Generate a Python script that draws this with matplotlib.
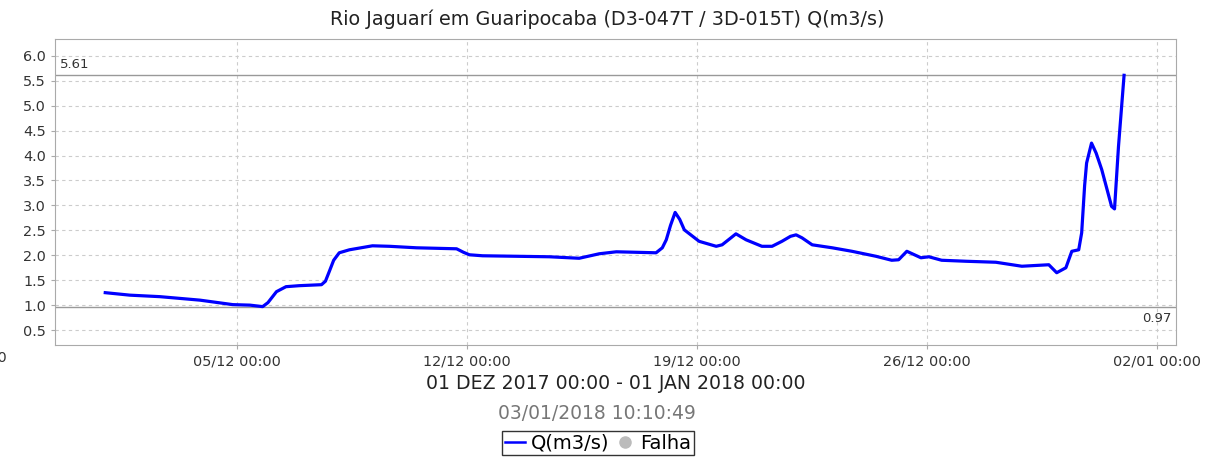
import matplotlib
matplotlib.use("Agg")
import matplotlib.pyplot as plt
import matplotlib.dates as mdates
from matplotlib.lines import Line2D
import numpy as np
from datetime import datetime, timedelta

# Series: days since 01/12/2017 00:00 and flow Q(m3/s)
start = datetime(2017, 12, 1)
days = [0.0, 0.75, 1.66, 2.88, 3.88, 4.40, 4.79, 4.95, 5.21, 5.50, 5.90, 6.58,
        6.70, 6.82, 6.95, 7.12, 7.43, 8.13, 8.65, 9.47, 10.69, 10.90, 11.08,
        11.48, 12.51, 13.51, 14.42, 15.03, 15.55, 16.76, 16.95, 17.07, 17.20,
        17.34, 17.48, 17.62, 18.07, 18.59, 18.77, 19.00, 19.19, 19.50, 19.98,
        20.29, 20.59, 20.85, 21.02, 21.20, 21.51, 22.12, 22.72, 23.45, 23.93,
        24.14, 24.39, 24.82, 25.06, 25.45, 26.19, 27.10, 27.89, 28.71, 28.95,
        29.23, 29.41, 29.62, 29.71, 29.80, 29.86, 30.01, 30.15, 30.32, 30.62,
        30.71, 30.83, 31.0]
flow = [1.25, 1.20, 1.17, 1.10, 1.01, 1.00, 0.97, 1.05, 1.27, 1.37, 1.39, 1.41,
        1.48, 1.68, 1.90, 2.05, 2.11, 2.19, 2.18, 2.15, 2.13, 2.06, 2.01,
        1.99, 1.98, 1.97, 1.94, 2.03, 2.07, 2.05, 2.15, 2.31, 2.60,
        2.86, 2.72, 2.51, 2.28, 2.18, 2.21, 2.33, 2.43, 2.31, 2.18,
        2.18, 2.28, 2.38, 2.41, 2.35, 2.21, 2.15, 2.08, 1.98, 1.90,
        1.91, 2.08, 1.95, 1.97, 1.90, 1.88, 1.86, 1.78, 1.81, 1.65,
        1.75, 2.08, 2.11, 2.45, 3.40, 3.85, 4.25, 4.05, 3.72, 2.98,
        2.93, 4.18, 5.61]
q_max = 5.61
q_min = 0.97
tick_days = [4, 11, 18, 25, 32]

times = [start + timedelta(days=d) for d in days]
ticks = [start + timedelta(days=d) for d in tick_days]

fig = plt.figure(figsize=(12.16, 4.61), dpi=100)
ax = fig.add_axes([0.0452, 0.2516, 0.9219, 0.664])

ax.plot(times, flow, color="#0000ff", lw=2.3, zorder=3)
ax.axhline(q_max, color="#999999", lw=1, zorder=2)
ax.axhline(q_min, color="#999999", lw=1, zorder=2)

ax.set_yticks(np.arange(0.5, 6.01, 0.5))
ax.set_xticks(ticks)
ax.xaxis.set_major_formatter(mdates.DateFormatter("%d/%m %H:%M"))
ax.set_xlim(start + timedelta(days=-1.53), start + timedelta(days=32.58))
ax.set_ylim(0.2, 6.34)

ax.grid(True, color="#cccccc", ls=(0, (3, 3)), lw=0.8)
for s in ax.spines.values():
    s.set_color("#aaaaaa")
ax.tick_params(colors="#aaaaaa", labelcolor="#333333", labelsize=10.4, length=3)

# clipped label of the 28/11 tick at the far left
fig.text(0.0058, 0.224, "28/11 00:00", ha="right", va="center",
         fontsize=10.4, color="#333333")

ax.text(0.004, q_max + 0.08, "5.61", transform=ax.get_yaxis_transform(),
        ha="left", va="bottom", fontsize=9.5, color="#333333")
ax.text(0.996, q_min - 0.1, "0.97", transform=ax.get_yaxis_transform(),
        ha="right", va="top", fontsize=9.5, color="#333333")

fig.text(0.499, 0.958, "Rio Jaguarí em Guaripocaba (D3-047T / 3D-015T) Q(m3/s)",
         ha="center", va="center", fontsize=13.8, color="#222222")
fig.text(0.506, 0.169, "01 DEZ 2017 00:00 - 01 JAN 2018 00:00",
         ha="center", va="center", fontsize=13.6, color="#222222")
fig.text(0.491, 0.103, "03/01/2018 10:10:49",
         ha="center", va="center", fontsize=13.5, color="#777777")

handles = [Line2D([], [], color="#0000ff", lw=1.8),
           Line2D([], [], color="#bbbbbb", marker="o", ls="none", markersize=8)]
leg = fig.legend(handles, ["Q(m3/s)", "Falha"], loc="center",
                 bbox_to_anchor=(0.492, 0.039), ncol=2, fontsize=14,
                 frameon=True, fancybox=False, handlelength=1.0,
                 handletextpad=0.3, columnspacing=0.3, borderpad=0.15,
                 borderaxespad=0)
leg.get_frame().set_edgecolor("black")
leg.get_frame().set_linewidth(1)

fig.savefig("out.png", dpi=100)
